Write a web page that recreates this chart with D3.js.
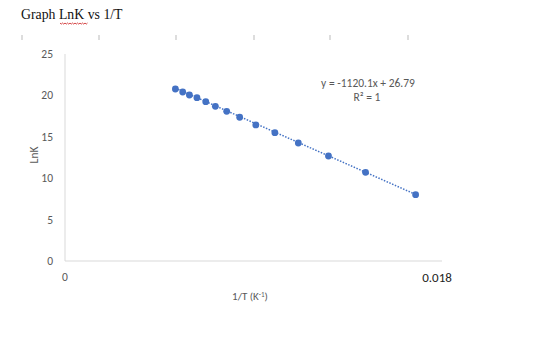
<!DOCTYPE html>
<html>
<head>
<meta charset="utf-8">
<script src="https://cdn.jsdelivr.net/npm/d3@7/dist/d3.min.js"></script>
<style>
  body { margin: 0; background: #fff; }
  text { font-family: Calibri, Carlito, "Liberation Sans", Arial, sans-serif; }
</style>
</head>
<body>
<div id="chart"></div>
<script>
// values
var invT = [0.00527, 0.00562, 0.00594, 0.00630, 0.00672, 0.00718, 0.00772,
            0.00834, 0.00911, 0.01002, 0.01114, 0.01258, 0.01435, 0.01674];
var lnK  = [20.77, 20.41, 20.05, 19.72, 19.24, 18.68, 18.08,
            17.36, 16.43, 15.50, 14.25, 12.68, 10.71, 8.01];
var yTicks = [0, 5, 10, 15, 20, 25];
var xTicks = [0];
var trendSlope = -1120.1;
var trendIntercept = 26.79;
var rulerMarks = [22, 99, 176, 254, 330, 408];

var svgWidth = 560, svgHeight = 337;

var svg = d3.select("#chart")
  .append("svg")
  .attr("width", svgWidth)
  .attr("height", svgHeight);

// word-style title + ruler marks
svg.append("text")
  .attr("x", 21)
  .attr("y", 19)
  .style("font-family", "'Liberation Serif', 'Times New Roman', serif")
  .style("font-size", "13.8px")
  .attr("fill", "#111")
  .text("Graph LnK vs 1/T");

// red squiggle under LnK
var sq = "M60,23";
for (var i = 0; i < 22; i++) {
  sq += " l1.25," + (i % 2 ? -1.1 : 1.1);
}
svg.append("path")
  .attr("d", sq)
  .attr("fill", "none")
  .attr("stroke", "#d03030")
  .attr("stroke-width", 0.9);

svg.selectAll("line.ruler").data(rulerMarks).enter()
  .append("line")
  .attr("class", "ruler")
  .attr("x1", d => d).attr("x2", d => d)
  .attr("y1", 35).attr("y2", 40)
  .attr("stroke", "#bbb")
  .attr("stroke-width", 1);

// scales
var x = d3.scaleLinear().domain([0, 0.018]).range([65, 442]);
var y = d3.scaleLinear().domain([0, 25]).range([261, 54]);

// axes lines
svg.append("line")
  .attr("x1", x(0)).attr("x2", x(0))
  .attr("y1", y(25)).attr("y2", y(0))
  .attr("stroke", "#d9d9d9");
svg.append("line")
  .attr("x1", x(0)).attr("x2", x(0.018))
  .attr("y1", y(0)).attr("y2", y(0))
  .attr("stroke", "#d9d9d9");

// y tick labels
svg.selectAll("text.ytick").data(yTicks).enter()
  .append("text")
  .attr("class", "ytick")
  .attr("x", 53)
  .attr("y", d => y(d) + 4)
  .attr("text-anchor", "end")
  .style("font-size", "11.5px")
  .attr("fill", "#595959")
  .text(d => d);

svg.selectAll("text.xtick").data(xTicks).enter()
  .append("text")
  .attr("class", "xtick")
  .attr("x", d => x(d))
  .attr("y", 281)
  .attr("text-anchor", "middle")
  .style("font-size", "11.5px")
  .attr("fill", "#595959")
  .text(d => d);

// 0.018 overlay label
svg.append("text")
  .attr("x", 437)
  .attr("y", 282)
  .attr("text-anchor", "middle")
  .style("font-size", "13px")
  .attr("fill", "#222")
  .text("0.018");

// axis titles
svg.append("text")
  .attr("x", 250)
  .attr("y", 300)
  .attr("text-anchor", "middle")
  .style("font-size", "11px")
  .attr("fill", "#595959")
  .html("1/T (K<tspan dy='-3.5' style='font-size:7px'>-1</tspan><tspan dy='3.5'>)</tspan>");

svg.append("text")
  .attr("transform", "translate(38,155) rotate(-90)")
  .attr("text-anchor", "middle")
  .style("font-size", "11.5px")
  .attr("fill", "#595959")
  .text("LnK");

// trendline
var tx = d3.extent(invT);
var trend = tx.map(v => [v, trendSlope * v + trendIntercept]);
svg.append("path")
  .datum(trend)
  .attr("d", d3.line().x(d => x(d[0])).y(d => y(d[1])))
  .attr("fill", "none")
  .attr("stroke", "#4472c4")
  .attr("stroke-width", 1.5)
  .attr("stroke-dasharray", "1.5,1.5");

// points
svg.selectAll("circle").data(invT).enter()
  .append("circle")
  .attr("cx", d => x(d))
  .attr("cy", (d, i) => y(lnK[i]))
  .attr("r", 3.4)
  .attr("fill", "#4472c4");

// equation
svg.append("text")
  .attr("x", 368)
  .attr("y", 87)
  .attr("text-anchor", "middle")
  .style("font-size", "11.5px")
  .attr("fill", "#595959")
  .text("y = -1120.1x + 26.79");
svg.append("text")
  .attr("x", 367)
  .attr("y", 101)
  .attr("text-anchor", "middle")
  .style("font-size", "11.5px")
  .attr("fill", "#595959")
  .text("R² = 1");
</script>
</body>
</html>
